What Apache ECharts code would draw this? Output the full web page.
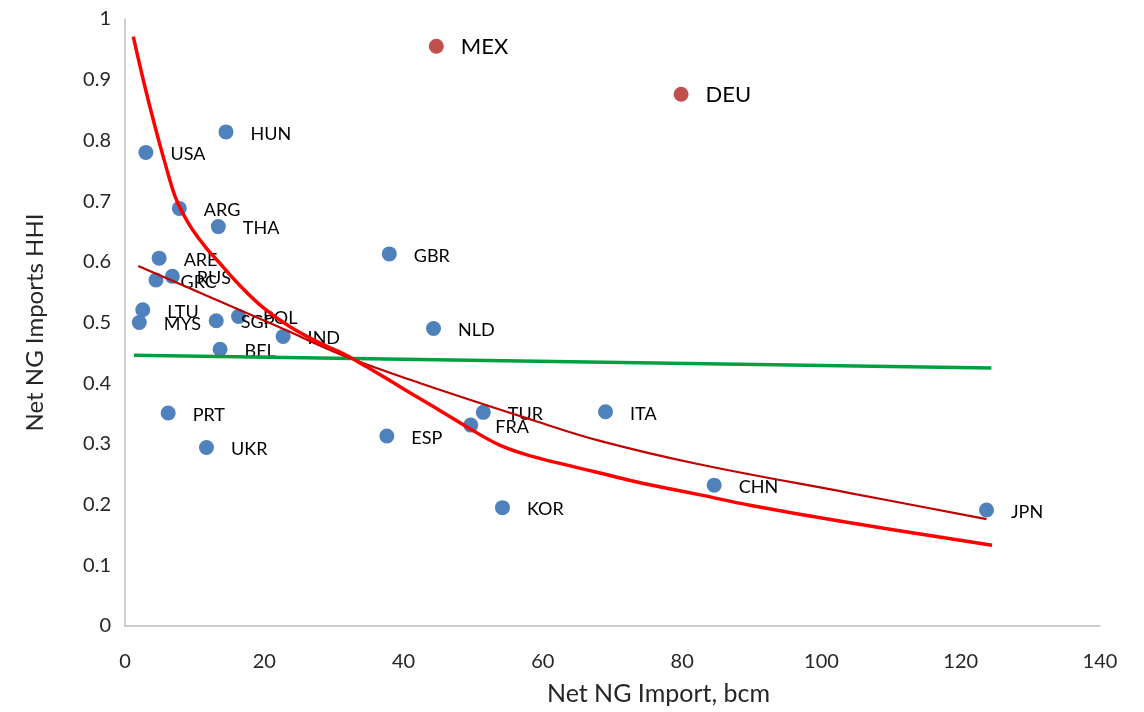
<!DOCTYPE html>
<html>
<head>
<meta charset="utf-8">
<script src="https://cdn.jsdelivr.net/npm/echarts@6/dist/echarts.min.js"></script>
<style>
html,body{margin:0;padding:0;background:#fff;}
#chart{width:1144px;height:712px;}
</style>
</head>
<body>
<div id="chart"></div>
<script>
// Country points: [net import bcm, HHI]
const blueNames = ["USA","HUN","ARG","THA","ARE","GRC","RUS","LTU","MYS","SGP","POL","IND","BEL","GBR","NLD","PRT","UKR","ESP","TUR","FRA","ITA","KOR","CHN","JPN"];
const blueX = [3.0,14.5,7.8,13.4,4.9,4.45,6.8,2.55,2.05,13.1,16.3,22.7,13.65,37.95,44.3,6.2,11.7,37.6,51.45,49.65,69.0,54.2,84.6,123.7];
const blueY = [0.780,0.814,0.688,0.658,0.606,0.570,0.576,0.521,0.500,0.503,0.510,0.477,0.456,0.613,0.490,0.351,0.294,0.313,0.352,0.331,0.353,0.195,0.232,0.191];
const redNames = ["MEX","DEU"];
const redX = [44.7,79.85];
const redY = [0.955,0.876];
// Trend curves
const curveX = [1.19,2.87,4.31,5.74,7.18,8.3,9.58,11.7,13.2,16.5,19.8,23.7,28.0,31.3,34.7,38.5,41.4,44.2,49.1,53.8,58.6,63.5,68.2,72.9,77.8,82.6,89.7,104.1,124.5];
const curveY = [0.971,0.888,0.823,0.763,0.708,0.680,0.655,0.622,0.603,0.561,0.525,0.493,0.466,0.449,0.427,0.401,0.381,0.362,0.328,0.298,0.279,0.265,0.252,0.239,0.227,0.216,0.199,0.170,0.133];
const darkX = [1.9,12.0,22.6,31.9,42.4,58.6,68.2,82.6,104.1,123.7];
const darkY = [0.593,0.543,0.490,0.443,0.400,0.339,0.305,0.266,0.219,0.176];
const greenX = [1.3,124.4];
const greenY = [0.446,0.425];
const xTicks = [0,20,40,60,80,100,120,140];
const yTicks = [0,0.1,0.2,0.3,0.4,0.5,0.6,0.7,0.8,0.9,1];

const zip = (xs, ys) => xs.map((x, i) => [x, ys[i]]);
const FONT = "Lato";

const chart = echarts.init(document.getElementById('chart'));
chart.setOption({
  animation: false,
  backgroundColor: '#fff',
  grid: {left: 125, right: 44, top: 19, bottom: 86},
  xAxis: {
    type: 'value', min: xTicks[0], max: xTicks[xTicks.length-1], interval: 20,
    name: 'Net NG Import, bcm', nameLocation: 'middle', nameGap: 55,
    nameTextStyle: {fontFamily: FONT, fontSize: 25, color: '#262626', padding: [0,0,0,92]},
    axisLine: {show: true, lineStyle: {color: '#bfbfbf', width: 1.5}},
    axisTick: {show: false},
    splitLine: {show: false},
    axisLabel: {fontFamily: FONT, fontSize: 20, color: '#262626', margin: 26}
  },
  yAxis: {
    type: 'value', min: yTicks[0], max: yTicks[yTicks.length-1], interval: 0.1,
    name: 'Net NG Imports HHI', nameLocation: 'middle', nameGap: 78, nameRotate: 90,
    nameTextStyle: {fontFamily: FONT, fontSize: 24, color: '#262626'},
    axisLine: {show: true, lineStyle: {color: '#bfbfbf', width: 1.5}},
    axisTick: {show: false},
    splitLine: {show: false},
    axisLabel: {fontFamily: FONT, fontSize: 20, color: '#262626', margin: 14,
      formatter: v => String(Math.round(v*10)/10)}
  },
  series: [
    {
      type: 'scatter', z: 2,
      data: blueNames.map((n, i) => ({name: n, value: [blueX[i], blueY[i]]})),
      symbolSize: 15,
      itemStyle: {color: '#4f81bd', opacity: 1},
      label: {show: true, position: 'right', distance: 17, formatter: '{b}',
        fontFamily: FONT, fontSize: 18, color: '#000', offset: [0, 2]}
    },
    {
      type: 'scatter', z: 2,
      data: redNames.map((n, i) => ({name: n, value: [redX[i], redY[i]]})),
      symbolSize: 15,
      itemStyle: {color: '#c0504d', opacity: 1},
      label: {show: true, position: 'right', distance: 17, formatter: '{b}',
        fontFamily: FONT, fontSize: 22, color: '#000', offset: [0, 1]}
    },
    {
      type: 'line', z: 5, data: zip(greenX, greenY), showSymbol: false, symbol: 'none',
      lineStyle: {color: '#00a040', width: 3.5}
    },
    {
      type: 'line', z: 5, data: zip(darkX, darkY), showSymbol: false, symbol: 'none',
      smooth: 0.4,
      lineStyle: {color: '#c00000', width: 2.2}
    },
    {
      type: 'line', z: 6, data: zip(curveX, curveY), showSymbol: false, symbol: 'none',
      smooth: 0.4,
      lineStyle: {color: '#ff0000', width: 3.5}
    }
  ]
});
</script>
</body>
</html>
